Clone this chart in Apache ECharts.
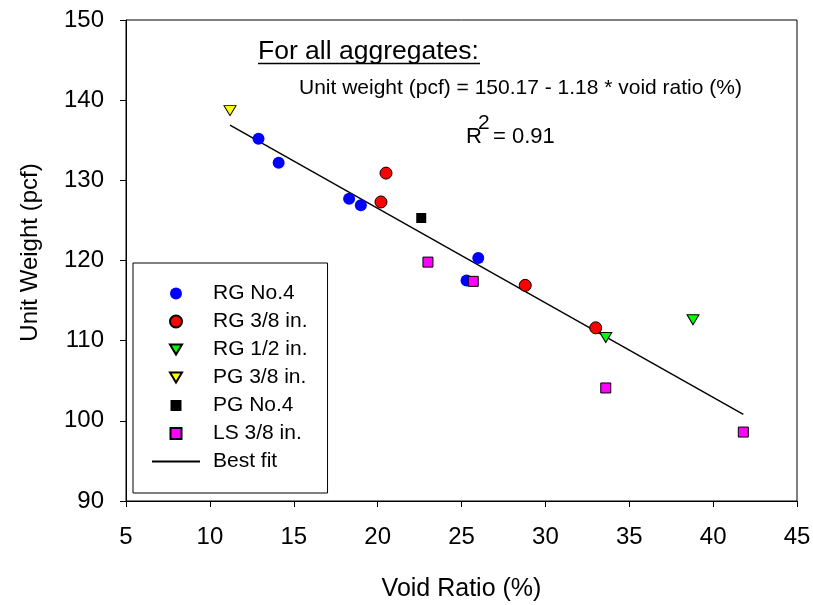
<!DOCTYPE html>
<html>
<head>
<meta charset="utf-8">
<script src="https://cdn.jsdelivr.net/npm/echarts@6/dist/echarts.min.js"></script>
<style>
html,body{margin:0;padding:0;background:#fff;}
#chart{width:813px;height:605px;}
</style>
</head>
<body>
<div id="chart"></div>
<script>
// ---- data ----
var rgNo4X = [12.9, 14.1, 18.3, 19.0, 25.3, 26.0];
var rgNo4Y = [135.2, 132.2, 127.7, 126.9, 117.5, 120.3];
var rg38X = [20.5, 20.2, 28.8, 33.0];
var rg38Y = [130.9, 127.3, 116.9, 111.6];
var rg12X = [33.6, 38.8];
var rg12Y = [110.4, 112.6];
var pg38X = [11.2];
var pg38Y = [138.7];
var pgNo4X = [22.6];
var pgNo4Y = [125.3];
var ls38X = [23.0, 25.7, 33.6, 41.8];
var ls38Y = [119.8, 117.4, 104.1, 98.6];
var fitX = [11.2, 41.8];
var fitY = [136.9, 100.8];
var seriesNames = ['RG No.4', 'RG 3/8 in.', 'RG 1/2 in.', 'PG 3/8 in.', 'PG No.4', 'LS 3/8 in.', 'Best fit'];
var xTicks = {min: 5, max: 45, interval: 5};
var yTicks = {min: 90, max: 150, interval: 10};

function pairs(xs, ys) { return xs.map(function (x, i) { return [x, ys[i]]; }); }

var FONT = '"Liberation Sans", Arial, sans-serif';
var TRI_ICON = 'path://M6,-1 M0,0 L12,0 L6,10 Z M6,11';
var SQ_ICON = 'path://M0.5,0.5 L11.5,0.5 L11.5,11.5 L0.5,11.5 Z M0,0 M12,12';

var legendData = [
  {name: seriesNames[0], icon: 'circle'},
  {name: seriesNames[1], icon: 'circle'},
  {name: seriesNames[2], icon: TRI_ICON, symbolRotate: 0},
  {name: seriesNames[3], icon: TRI_ICON, symbolRotate: 0},
  {name: seriesNames[4], icon: SQ_ICON},
  {name: seriesNames[5], icon: SQ_ICON},
  {name: seriesNames[6], itemStyle: {color: 'rgba(0,0,0,0)', borderWidth: 0, opacity: 0}}
];

var chart = echarts.init(document.getElementById('chart'), null, {renderer: 'canvas'});

var option = {
  backgroundColor: '#ffffff',
  animation: false,
  grid: {left: 126, right: 16, top: 20, bottom: 104, outerBoundsMode: 'none', containLabel: false,
         show: true, borderColor: '#000', borderWidth: 1, backgroundColor: 'transparent'},
  xAxis: {
    type: 'value', min: xTicks.min, max: xTicks.max, interval: xTicks.interval,
    name: 'Void Ratio (%)', nameLocation: 'middle', nameGap: 76,
    nameTextStyle: {fontFamily: FONT, fontSize: 25, color: '#000'},
    axisLine: {show: true, onZero: false, lineStyle: {color: '#000', width: 1}},
    axisTick: {show: true, inside: false, length: 6, lineStyle: {color: '#000'}},
    axisLabel: {fontFamily: FONT, fontSize: 24, color: '#000', margin: 24},
    splitLine: {show: false}
  },
  yAxis: {
    type: 'value', min: yTicks.min, max: yTicks.max, interval: yTicks.interval,
    name: 'Unit Weight (pcf)', nameLocation: 'middle', nameGap: 84,
    nameTextStyle: {fontFamily: FONT, fontSize: 24, color: '#000', padding: [0, 0, 0, 16]},
    axisLine: {show: true, onZero: false, lineStyle: {color: '#000', width: 1}},
    axisTick: {show: true, inside: false, length: 6, lineStyle: {color: '#000'}},
    axisLabel: {fontFamily: FONT, fontSize: 24, color: '#000', margin: 22},
    splitLine: {show: false}
  },
  legend: {
    orient: 'vertical', left: 133, top: 263,
    data: legendData,
    borderColor: '#000', borderWidth: 1,
    padding: [20, 20, 21, 18],
    itemWidth: 48, itemHeight: 12, itemGap: 7,
    symbolKeepAspect: true,
    textStyle: {fontFamily: FONT, fontSize: 21, color: '#000', lineHeight: 21, padding: [0, 0, 0, 8]},
    selectedMode: false
  },
  series: [
    {name: 'Best fit', type: 'line', data: pairs(fitX, fitY), symbol: 'none', z: 1,
     lineStyle: {color: '#000', width: 1.4}, itemStyle: {color: '#000'}},
    {name: 'RG No.4', type: 'scatter', data: pairs(rgNo4X, rgNo4Y), symbol: 'circle', symbolSize: 12, z: 3,
     itemStyle: {color: '#0000ff', borderWidth: 0, opacity: 1}},
    {name: 'RG 3/8 in.', type: 'scatter', data: pairs(rg38X, rg38Y), symbol: 'circle', symbolSize: 12, z: 3,
     itemStyle: {color: '#ff0000', borderColor: '#000', borderWidth: 1, opacity: 1}},
    {name: 'RG 1/2 in.', type: 'scatter', data: pairs(rg12X, rg12Y), symbol: 'triangle', symbolRotate: 180, symbolSize: [12, 10], z: 3,
     itemStyle: {color: '#00ff00', borderColor: '#000', borderWidth: 1, opacity: 1}},
    {name: 'PG 3/8 in.', type: 'scatter', data: pairs(pg38X, pg38Y), symbol: 'triangle', symbolRotate: 180, symbolSize: [12, 10], z: 3,
     itemStyle: {color: '#ffff00', borderColor: '#000', borderWidth: 1, opacity: 1}},
    {name: 'PG No.4', type: 'scatter', data: pairs(pgNo4X, pgNo4Y), symbol: 'rect', symbolSize: 10, z: 3,
     itemStyle: {color: '#000000', borderWidth: 0, opacity: 1}},
    {name: 'LS 3/8 in.', type: 'scatter', data: pairs(ls38X, ls38Y), symbol: 'rect', symbolSize: 10, z: 3,
     itemStyle: {color: '#ff00ff', borderColor: '#000', borderWidth: 1, opacity: 1}}
  ],
  graphic: [
    {type: 'text', left: 258, top: 38, style: {text: 'For all aggregates:', font: '26.5px ' + FONT, fill: '#000'}},
    {type: 'line', shape: {x1: 258, y1: 63.5, x2: 480, y2: 63.5}, style: {stroke: '#000', lineWidth: 1.5}},
    {type: 'text', left: 299, top: 78, style: {text: 'Unit weight (pcf) = 150.17 - 1.18 * void ratio (%)', font: '21px ' + FONT, fill: '#000'}},
    {type: 'text', left: 466, top: 126, style: {text: 'R', font: '22px ' + FONT, fill: '#000'}},
    {type: 'text', left: 478, top: 113, style: {text: '2', font: '21px ' + FONT, fill: '#000'}},
    {type: 'text', left: 493, top: 126, style: {text: '= 0.91', font: '22px ' + FONT, fill: '#000'}}
  ]
};
chart.setOption(option);
</script>
</body>
</html>
